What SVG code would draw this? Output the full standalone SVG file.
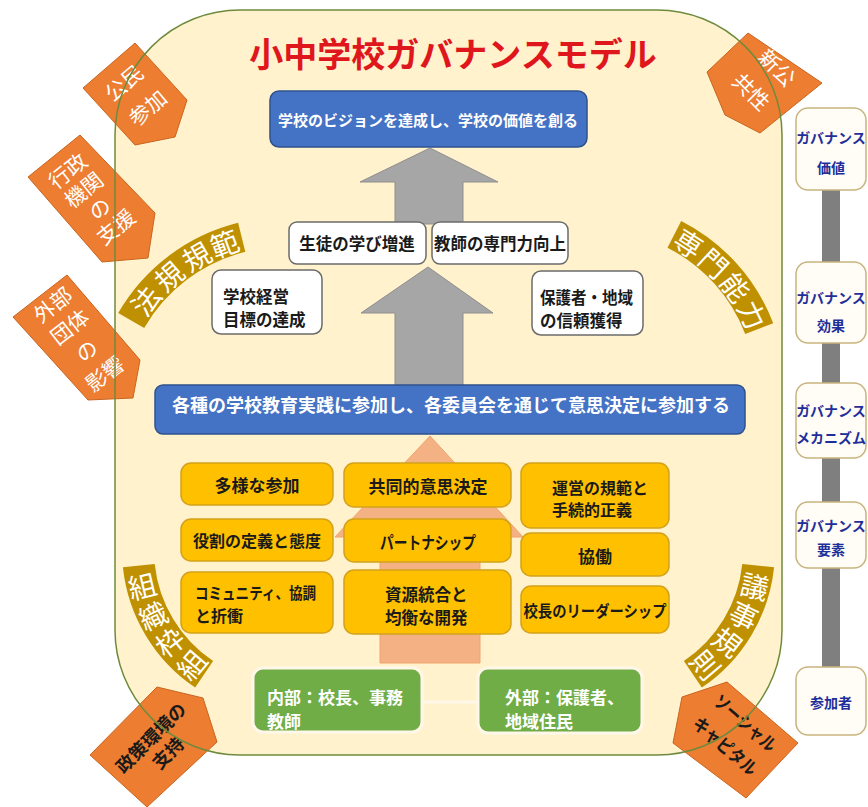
<svg xmlns="http://www.w3.org/2000/svg" width="868" height="807" viewBox="0 0 868 807">
<style>
text{font-family:'Noto Sans CJK JP','Noto Sans CJK SC',sans-serif;dominant-baseline:central}
.title{font-size:34px;font-weight:bold;fill:#E0161D;text-anchor:middle}
.blue{fill:#4472C4;stroke:#2F528F;stroke-width:1.5}
.wt{fill:#fff;font-weight:bold}
.white{fill:#fff;stroke:#6b6b6b;stroke-width:1.5}
.bt{fill:#1a1a1a;font-weight:bold}
.yel{fill:#FFC000;stroke:#D4A21A;stroke-width:1.5}
.grn{fill:#70AD47;stroke:#FFF8EA;stroke-width:3}
.band{fill:#BF9000}
.arct{fill:#fff;font-size:28px;text-anchor:middle}
.pent{fill:#ED7D31;stroke:#C9651F;stroke-width:1}
.pw{fill:#fff;font-size:21px;text-anchor:middle}
.pb{fill:#1a1a1a;font-size:18px;font-weight:bold;text-anchor:middle}
.side{fill:#FFFDF6;stroke:#C8B47E;stroke-width:1.5}
.st{fill:#1F2F9A;font-size:14px;font-weight:bold;text-anchor:middle}
.mid{text-anchor:middle}
</style>

<rect id="frame" x="115" y="10" width="667" height="745" rx="125" ry="125" fill="#FFF2CC"/>

<g id="connectors">
  <path d="M430,148 L498,182 L463,182 L463,224 L395,224 L395,182 L360,182 Z" fill="#A6A6A6" stroke="#8E8E8E" stroke-width="1"/>
  <path d="M428,267 L493,313 L463,313 L463,386 L395,386 L395,313 L361,313 Z" fill="#A6A6A6" stroke="#8E8E8E" stroke-width="1"/>
  <path d="M430,436 L523,537 L480,537 L480,663 L380,663 L380,537 L335,537 Z" fill="#F4B183" stroke="#F0A36E" stroke-width="1"/>
  <line x1="422" y1="702" x2="478" y2="702" stroke="#FFF8EA" stroke-width="3"/>
  <rect x="822" y="185" width="18" height="490" fill="#7F7F7F"/>
</g>

<text class="title" x="453" y="52">小中学校ガバナンスモデル</text>

<g id="vision">
  <rect class="blue" x="270" y="91" width="317" height="56" rx="9"/>
  <text class="wt mid" x="428" y="119" font-size="15">学校のビジョンを達成し、学校の価値を創る</text>
</g>
<g id="learning">
  <rect class="white" x="289" y="222" width="137" height="42" rx="8"/>
  <text class="bt mid" x="357" y="243" font-size="16.5">生徒の学び増進</text>
</g>
<g id="teacher">
  <rect class="white" x="432" y="222" width="136" height="42" rx="8"/>
  <text class="bt mid" x="500" y="243" font-size="16.5">教師の専門力向上</text>
</g>
<g id="goal">
  <rect class="white" x="212" y="270" width="110" height="64" rx="9"/>
  <text class="bt" x="223" y="296" font-size="16.5">学校経営</text>
  <text class="bt" x="223" y="319" font-size="16.5">目標の達成</text>
</g>
<g id="trust">
  <rect class="white" x="532" y="271" width="111" height="64" rx="9"/>
  <text class="bt" x="540" y="297" font-size="16.5" textLength="93" lengthAdjust="spacingAndGlyphs">保護者・地域</text>
  <text class="bt" x="540" y="320" font-size="16.5">の信頼獲得</text>
</g>
<g id="practice">
  <rect class="blue" x="155" y="385" width="590" height="49" rx="8"/>
  <text class="wt mid" x="451" y="404" font-size="18">各種の学校教育実践に参加し、各委員会を通じて意思決定に参加する</text>
</g>

<g id="diverse"><rect class="yel" x="181" y="463" width="152" height="42" rx="10"/><text class="bt mid" x="257" y="484" font-size="17">多様な参加</text></g>
<g id="roles"><rect class="yel" x="181" y="519" width="152" height="42" rx="10"/><text class="bt mid" x="257" y="540" font-size="16">役割の定義と態度</text></g>
<g id="community"><rect class="yel" x="181" y="572" width="152" height="61" rx="10"/><text class="bt" x="195" y="592" font-size="16" textLength="121" lengthAdjust="spacingAndGlyphs">コミュニティ、協調</text><text class="bt" x="195" y="615" font-size="16">と折衝</text></g>
<g id="codecision"><rect class="yel" x="344" y="463" width="167" height="44" rx="10"/><text class="bt mid" x="428" y="485" font-size="17">共同的意思決定</text></g>
<g id="partner"><rect class="yel" x="344" y="519" width="167" height="43" rx="10"/><text class="bt mid" x="428" y="541" font-size="17" textLength="96" lengthAdjust="spacingAndGlyphs">パートナシップ</text></g>
<g id="resource"><rect class="yel" x="344" y="570" width="167" height="64" rx="10"/><text class="bt" x="385" y="594" font-size="16.5">資源統合と</text><text class="bt" x="385" y="617" font-size="16.5">均衡な開発</text></g>
<g id="norms"><rect class="yel" x="521" y="463" width="148" height="65" rx="10"/><text class="bt" x="552" y="487" font-size="16">運営の規範と</text><text class="bt" x="552" y="509" font-size="16">手続的正義</text></g>
<g id="collab"><rect class="yel" x="521" y="533" width="148" height="43" rx="10"/><text class="bt mid" x="595" y="555" font-size="17">協働</text></g>
<g id="leader"><rect class="yel" x="521" y="586" width="148" height="47" rx="10"/><text class="bt mid" x="595" y="610" font-size="16" textLength="143" lengthAdjust="spacingAndGlyphs">校長のリーダーシップ</text></g>

<g id="internal"><rect class="grn" x="253" y="668" width="169" height="64" rx="10"/><text class="wt" x="267" y="696" font-size="17">内部：校長、事務</text><text class="wt" x="267" y="720" font-size="17">教師</text></g>
<g id="external"><rect class="grn" x="478" y="668" width="164" height="65" rx="10"/><text class="wt" x="505" y="696" font-size="17">外部：保護者、</text><text class="wt" x="505" y="720" font-size="17">地域住民</text></g>

<g id="law">
  <path class="band" d="M118.2,313.0 A192,192 0 0 1 238.1,222.7 L245.3,251.8 A162,162 0 0 0 144.2,328.0 Z"/>
  <text class="arct" transform="translate(145,300) rotate(-52)">法</text>
  <text class="arct" transform="translate(168.4,275.4) rotate(-41)">規</text>
  <text class="arct" transform="translate(196,255.7) rotate(-30)">規</text>
  <text class="arct" transform="translate(224,242.7) rotate(-20)">範</text>
</g>
<g id="expertise">
  <path class="band" d="M681.2,220.9 A192,192 0 0 1 773.2,323.2 L745.2,333.9 A162,162 0 0 0 667.5,247.7 Z"/>
  <text class="arct" transform="translate(689.1,242.7) rotate(32.5)">専</text>
  <text class="arct" transform="translate(714.7,262.5) rotate(43)">門</text>
  <text class="arct" transform="translate(736.3,286.7) rotate(53.5)">能</text>
  <text class="arct" transform="translate(753.1,314.4) rotate(64)">力</text>
</g>
<g id="organization">
  <path class="band" d="M122.9,567.3 A166,166 0 0 0 195.2,687.6 L213.1,661.1 A134,134 0 0 1 154.7,564.0 Z"/>
  <text class="arct" font-size="27" transform="translate(142.1,585) rotate(-13.5)">組</text>
  <text class="arct" font-size="27" transform="translate(152.6,614.6) rotate(-25.5)">織</text>
  <text class="arct" font-size="27" transform="translate(169,641.3) rotate(-37.5)">枠</text>
  <text class="arct" font-size="27" transform="translate(190.6,664.1) rotate(-49.5)">組</text>
</g>
<g id="rules">
  <path class="band" d="M774.1,567.3 A166,166 0 0 1 701.8,687.6 L683.9,661.1 A134,134 0 0 0 742.3,564.0 Z"/>
  <text class="arct" font-size="27" transform="translate(754.9,585) rotate(13.5)">議</text>
  <text class="arct" font-size="27" transform="translate(744.4,614.6) rotate(25.5)">事</text>
  <text class="arct" font-size="27" transform="translate(728,641.3) rotate(37.5)">規</text>
  <text class="arct" font-size="27" transform="translate(706.4,664.1) rotate(49.5)">則</text>
</g>

<g id="citizen">
  <polygon class="pent" points="83,88 135,43 187,100 175,137 135,145"/>
  <text class="pw" transform="translate(123,82) rotate(-40)">公民</text>
  <text class="pw" transform="translate(147,107) rotate(-40)">参加</text>
</g>
<g id="admin">
  <polygon class="pent" points="28,177 80,135 155,213 148,258 102,262"/>
  <text class="pw" font-size="20" transform="translate(67,170) rotate(-39)">行政</text>
  <text class="pw" font-size="20" transform="translate(83,189) rotate(-39)">機関</text>
  <text class="pw" font-size="20" transform="translate(99,208) rotate(-39)">の</text>
  <text class="pw" font-size="20" transform="translate(115,226) rotate(-39)">支援</text>
</g>
<g id="outside">
  <polygon class="pent" points="13,317 67,275 140,360 133,398 88,400"/>
  <text class="pw" font-size="20" transform="translate(52,304) rotate(-38)">外部</text>
  <text class="pw" font-size="20" transform="translate(69,326) rotate(-38)">団体</text>
  <text class="pw" font-size="20" transform="translate(86,350) rotate(-38)">の</text>
  <text class="pw" font-size="20" transform="translate(104,373) rotate(-38)">影響</text>
</g>
<g id="newpublic">
  <polygon class="pent" points="748,33 822,83 760,133 725,115 707,72"/>
  <text class="pw" font-size="20" transform="translate(778,67) rotate(45)">新公</text>
  <text class="pw" font-size="20" transform="translate(752,91) rotate(45)">共性</text>
</g>
<g id="policy">
  <polygon class="pent" points="90,755 157,687 203,698 217,742 147,807"/>
  <text class="pb" transform="translate(150,737) rotate(-45)">政策環境の</text>
  <text class="pb" transform="translate(167,752) rotate(-45)">支持</text>
</g>
<g id="social">
  <polygon class="pent" points="798,743 727,682 682,697 673,743 746,798"/>
  <text class="pb" font-size="17" textLength="76" lengthAdjust="spacingAndGlyphs" transform="translate(746,722) rotate(41)">ソーシャル</text>
  <text class="pb" font-size="17" textLength="78" lengthAdjust="spacingAndGlyphs" transform="translate(726,745) rotate(41)">キャピタル</text>
</g>

<rect x="115" y="10" width="667" height="745" rx="125" ry="125" fill="none" stroke="#6E8B3D" stroke-width="1.5"/>

<g id="value"><rect class="side" x="796" y="108" width="70" height="82" rx="12"/><text class="st" x="831" y="137">ガバナンス</text><text class="st" x="831" y="167">価値</text></g>
<g id="effect"><rect class="side" x="796" y="262" width="70" height="81" rx="12"/><text class="st" x="831" y="297">ガバナンス</text><text class="st" x="831" y="325">効果</text></g>
<g id="mechanism"><rect class="side" x="796" y="383" width="70" height="75" rx="12"/><text class="st" x="831" y="410">ガバナンス</text><text class="st" x="831" y="437">メカニズム</text></g>
<g id="element"><rect class="side" x="796" y="502" width="70" height="66" rx="12"/><text class="st" x="831" y="525">ガバナンス</text><text class="st" x="831" y="549">要素</text></g>
<g id="participant"><rect class="side" x="796" y="667" width="70" height="68" rx="12"/><text class="st" x="831" y="702">参加者</text></g>
</svg>
